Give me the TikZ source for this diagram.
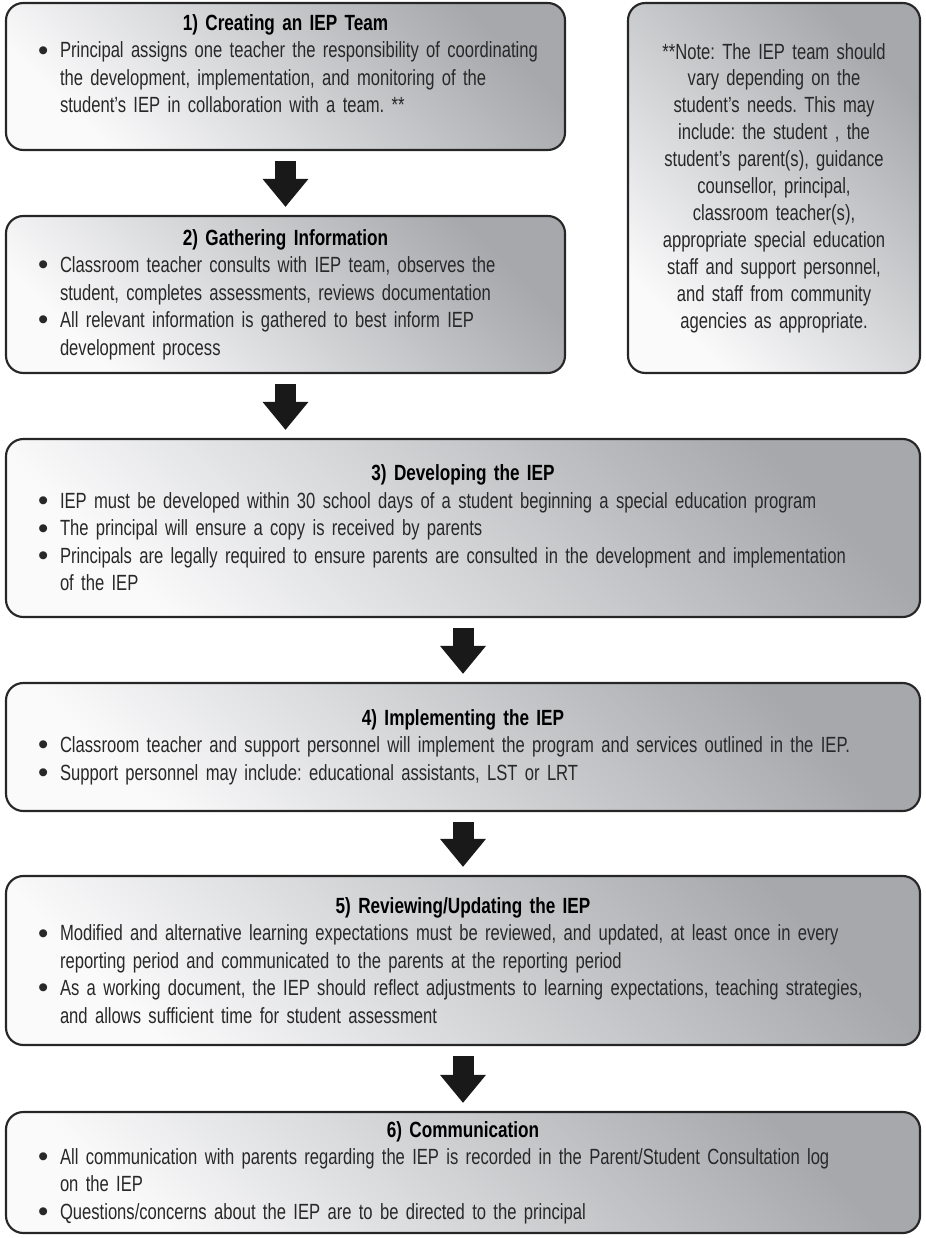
\documentclass[tikz,border=0pt]{standalone}
\usepackage{fontspec}
\setmainfont{Liberation Sans}[FakeStretch=0.755, BoldFeatures={FakeStretch=0.78}]
\newfontfamily\bulletfont{Liberation Sans}
\usetikzlibrary{positioning, arrows.meta}
\frenchspacing

\definecolor{cardDark}{RGB}{166,168,171}
\definecolor{cardLight}{RGB}{250,250,251}
\definecolor{ink}{RGB}{40,40,40}

% one bullet line of a card, hanging indent under the text
\newcommand{\bulletdot}{\raisebox{-1.6pt}{\bulletfont\fontsize{22}{0}\selectfont\textbullet}}
\newcommand{\itm}[1]{\par\hangindent=16.5pt\hangafter=1\noindent\makebox[16.5pt][l]{\bulletdot}#1\par}
\newcommand{\cardtitle}[1]{{\centering\bfseries\color{black}\noindent#1\par}}

\begin{document}
\begin{tikzpicture}[
        x=0.75pt, y=-0.75pt,
        card/.style={draw=black!85, line width=1.6pt, rounded corners=13pt,
            top color=cardDark, bottom color=cardLight, shading angle=-45,
            inner xsep=24pt, inner ysep=4pt, align=left, text=ink,
            font=\fontsize{16.5}{20.6}\selectfont},
        note/.style={card, align=center, inner xsep=12pt,
            font=\fontsize{16.5}{20.2}\selectfont},
        flow/.style={draw=black!90, line width=15.75pt,
            -{Triangle[width=33pt, length=21pt]},
            shorten <=7.5pt, shorten >=6pt},
    ]
    \useasboundingbox (0,0) rectangle (925,1238);

    % Draw the left column of steps
    \node[card, minimum width=419.25pt, minimum height=110.25pt, text width=371.25pt] (b1) at (285.5,76.5) {%
        \cardtitle{1) Creating an IEP Team}
        \itm{\mbox{Principal assigns one teacher the responsibility of coordinating}\newline
            the development, implementation, and monitoring of the\newline
            student’s IEP in collaboration with a team. **}\vspace{19pt}};

    \node[card, minimum width=419.25pt, minimum height=117.75pt, text width=371.25pt] (b2) at (285.5,294.5) {%
        \cardtitle{2) Gathering Information}
        \itm{Classroom teacher consults with IEP team, observes the\newline
            student, completes assessments, reviews documentation}
        \itm{All relevant information is gathered to best inform IEP\newline
            development process}};

    % Draw the note box
    \node[note, minimum width=219pt, minimum height=277.5pt, text width=195pt] (note) at (774,188) {%
        **Note: The IEP team should\\
        vary depending on the\\
        student’s needs. This may\\
        include: the student , the\\
        student’s parent(s), guidance\\
        counsellor, principal,\\
        classroom teacher(s),\\
        appropriate special education\\
        staff and support personnel,\\
        and staff from community\\
        agencies as appropriate.};

    % Draw the full width steps
    \node[card, minimum width=685.5pt, minimum height=133.5pt, text width=637.5pt] (b3) at (463,528) {%
        \cardtitle{3) Developing the IEP}
        \itm{IEP must be developed within 30 school days of a student beginning a special education program}
        \itm{The principal will ensure a copy is received by parents}
        \itm{Principals are legally required to ensure parents are consulted in the development and implementation\newline
            of the IEP}};

    \node[card, minimum width=685.5pt, minimum height=96pt, text width=637.5pt] (b4) at (463,747) {%
        \cardtitle{4) Implementing the IEP}
        \itm{Classroom teacher and support personnel will implement the program and services outlined in the IEP.}
        \itm{Support personnel may include: educational assistants, LST or LRT}};

    \node[card, minimum width=685.5pt, minimum height=126.75pt, text width=637.5pt] (b5) at (463,960.5) {%
        \cardtitle{5) Reviewing/Updating the IEP}
        \itm{Modified and alternative learning expectations must be reviewed, and updated, at least once in every\newline
            reporting period and communicated to the parents at the reporting period}
        \itm{As a working document, the IEP should reflect adjustments to learning expectations, teaching strategies,\newline
            and allows sufficient time for student assessment}};

    \node[card, minimum width=685.5pt, minimum height=90.75pt, text width=637.5pt] (b6) at (463,1172.5) {%
        \cardtitle{6) Communication}
        \itm{All communication with parents regarding the IEP is recorded in the Parent/Student Consultation log\newline
            on the IEP}
        \itm{Questions/concerns about the IEP are to be directed to the principal}};

    % Connect the steps with block arrows
    \draw[flow] (b1) -- (b2);
    \draw[flow] (b2.south) -- (b2.south |- b3.north);
    \foreach \source/\dest in {b3/b4, b4/b5, b5/b6}
        \draw[flow] (\source) -- (\dest);
\end{tikzpicture}
\end{document}
